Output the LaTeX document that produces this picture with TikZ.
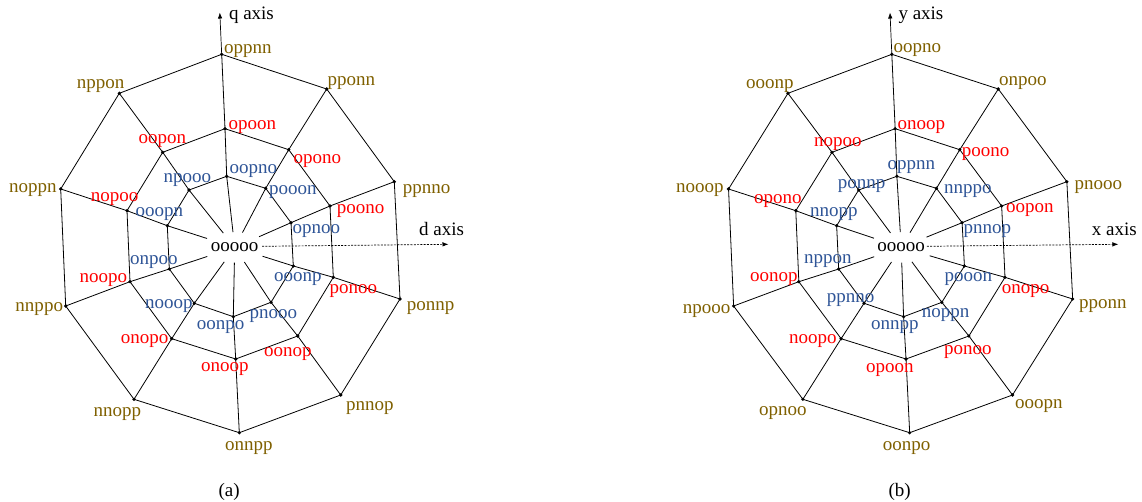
\documentclass[tikz,border=0pt]{standalone}
\usepackage{fontspec}
\setmainfont{Liberation Serif}
\usetikzlibrary{shapes.geometric,arrows.meta}
\definecolor{webgold}{RGB}{127,96,0}
\definecolor{webred}{RGB}{255,0,0}
\definecolor{webblue}{RGB}{47,85,151}
\newcommand\fs{\fontsize{19}{22}\selectfont}
\newcommand\webnet[1]{%
  \foreach \k/\x/\y in {1/221.7/54.3,2/326.7/89,3/394.3/181.7,4/400/299,5/340.7/395,6/239.3/432.7,7/134/399.3,8/65.7/306,9/60.7/189,10/119.3/93.3}
    {\node[dot] (#1O\k) at (\x,\y) {};}
  \foreach \k/\x/\y in {1/225/128.7,2/288.7/149.7,3/330/206,4/333.3/277.3,5/297.7/336,6/235.7/359,7/171.7/338.7,8/130/281.7,9/127/210.7,10/162.7/152.3}
    {\node[dot] (#1M\k) at (\x,\y) {};}
  \foreach \k/\x/\y in {1/226.7/176.3,2/265.7/188.3,3/291/222.7,4/293.3/266,5/271/302.3,6/233.3/316.7,7/194.3/303.3,8/169.3/269,9/167.3/225.7,10/189/190}
    {\node[dot] (#1I\k) at (\x,\y) {};}
  \foreach \k [remember=\k as \j (initially 10)] in {1,...,10}
    {\draw[web] (#1O\j.center) -- (#1O\k.center);
     \draw[web] (#1M\j.center) -- (#1M\k.center);
     \draw[web] (#1I\j.center) -- (#1I\k.center);}
  \foreach \k in {1,...,10}
    {\draw[web] (#1c) -- (#1I\k.center) -- (#1M\k.center) -- (#1O\k.center);}
}
\begin{document}
\begin{tikzpicture}[x=1pt,y=-1pt,
  web/.style={line width=0.8pt},
  dot/.style={circle,fill=black,inner sep=0pt,minimum size=3.6pt},
  ctr/.style={ellipse,inner sep=0pt,minimum width=68pt,minimum height=30pt,font=\fs},
  lab/.style={anchor=base west,inner sep=0pt,font=\fs},
  olab/.style={lab,text=webgold},
  mlab/.style={lab,text=webred},
  ilab/.style={lab,text=webblue},
  axisarrow/.style={line width=0.7pt,-{Latex[length=6pt,width=4.5pt]}},
  dotaxis/.style={line width=0.7pt,dash pattern=on 2pt off 1.3pt,-{Latex[length=6pt,width=4.5pt]}}]
\useasboundingbox (0,0) rectangle (1142,502);
% ---------- left web (a)
\node[ctr] (Lc) at (234.7,247.4) {ooooo};
\webnet{L}
\coordinate (Lqt) at (219.8,12.5);
\draw[axisarrow] (LO1.center) -- (Lqt);
\coordinate (Lds) at (262,246.3);
\coordinate (Ldt) at (448.5,244.3);
\draw[dotaxis] (Lds) -- (Ldt);
\node[lab] (Lq) at (228.8,19.5) {q axis};
\node[lab] (Ld) at (419,235.3) {d axis};
\node[lab] (La) at (218.3,496.5) {(a)};
\foreach \t/\x/\y in {oppnn/224/53.3,pponn/327.3/86,ppnno/402.7/194,ponnp/406.7/310.7,pnnop/346/410,onnpp/225/450,nnopp/93.3/416.7,nnppo/15.3/311.7,noppn/9/192.7,nppon/76.7/88.3}
  {\node[olab] (L-\t) at (\x,\y) {\t};}
\foreach \t/\x/\y in {opoon/228.3/129.3,opono/293.3/163.3,poono/336.7/214,ponoo/329.3/293.3,oonop/264/356.7,onoop/201/371.7,onopo/120.7/343.3,noopo/79.3/282.7,nopoo/90.7/201.7,oopon/138.3/143.3}
  {\node[mlab] (L-\t) at (\x,\y) {\t};}
\foreach \t/\x/\y in {oopno/229.3/173.3,pooon/269/195,opnoo/292.3/233.3,ooonp/274/281.7,pnooo/249.3/318.3,oonpo/196.7/330,nooop/145/308.3,onpoo/130/265,ooopn/135.3/216.7,npooo/163.3/182.7}
  {\node[ilab] (L-\t) at (\x,\y) {\t};}
% ---------- right web (b)
\begin{scope}[xshift=666.98pt,xscale=1.014]
\node[ctr] (Rc) at (230.94,247.4) {ooooo};
\webnet{R}
\coordinate (Rqt) at (219.9,12.5);
\draw[axisarrow] (RO1.center) -- (Rqt);
\coordinate (Rds) at (256.3,246.3);
\coordinate (Rdt) at (445.1,244.3);
\draw[dotaxis] (Rds) -- (Rdt);
\end{scope}
\node[lab] (Ry) at (898.3,19.7) {y axis};
\node[lab] (Rx) at (1091.7,235.3) {x axis};
\node[lab] (Rb) at (888.3,496.5) {(b)};
\foreach \t/\x/\y in {oopno/893.3/52.3,onpoo/999/85.7,pnooo/1074.3/189.3,pponn/1079/308.3,ooopn/1015/408.3,oonpo/882.7/450.7,opnoo/759/415,npooo/682.7/313.3,nooop/676/192.7,ooonp/746/88.3}
  {\node[olab] (R-\t) at (\x,\y) {\t};}
\foreach \t/\x/\y in {onoop/897.3/130,poono/961.7/156.7,oopon/1006/212.3,onopo/1001.7/293.3,ponoo/944/354,opoon/866/372.3,noopo/789/343.3,oonop/750/281.7,opono/754/204,nopoo/814/146.7}
  {\node[mlab] (R-\t) at (\x,\y) {\t};}
\foreach \t/\x/\y in {oppnn/887.3/170,nnppo/944/193.3,pnnop/963.3/233.3,pooon/944.3/281.7,noppn/921.7/317.3,onnpp/871/330,ppnno/826.7/302.3,nppon/804/264,nnopp/810/216.7,ponnp/837.7/188.3}
  {\node[ilab] (R-\t) at (\x,\y) {\t};}
\end{tikzpicture}
\end{document}
